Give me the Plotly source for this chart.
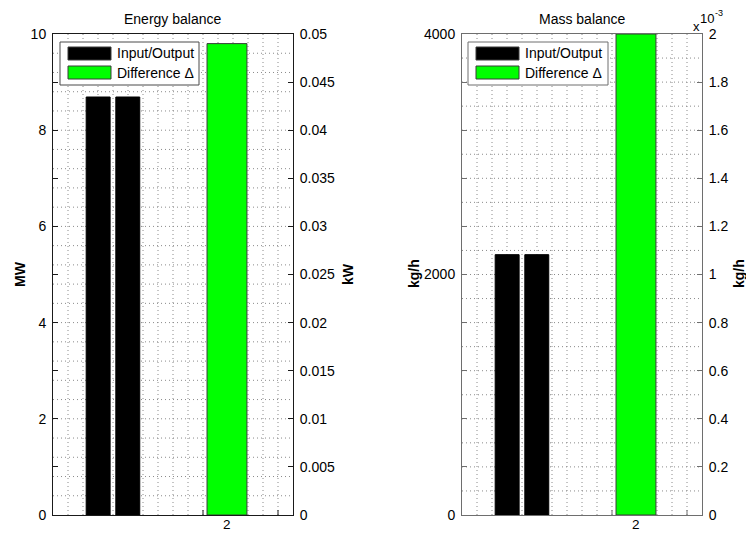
import plotly.graph_objects as go

# ---- data -------------------------------------------------------------
flow_names = ["Input", "Output"]
energy_io_mw = [8.69, 8.69]          # energy in / out (MW)
energy_diff_kw = [0.049]             # energy difference (kW)
mass_io_kgh = [2165, 2165]           # mass in / out (kg/h)
mass_diff_kgh = [0.002]              # mass difference (kg/h)

group_x = 1                          # position of the in/out pair
diff_x = 2                           # position of the difference bar
x_ticks = [2]
x_ticklabels = ["2"]

mw_ticks = [0, 1, 2, 3, 4, 5, 6, 7, 8, 9, 10]
mw_labels = ["0", "", "2", "", "4", "", "6", "", "8", "", "10"]
kw_ticks = [0, 0.005, 0.01, 0.015, 0.02, 0.025, 0.03, 0.035, 0.04, 0.045, 0.05]
kw_labels = ["0", "0.005", "0.01", "0.015", "0.02", "0.025", "0.03",
             "0.035", "0.04", "0.045", "0.05"]
kgh_ticks = [0, 400, 800, 1200, 1600, 2000, 2400, 2800, 3200, 3600, 4000]
kgh_labels = ["0", "", "", "", "", "2000", "", "", "", "", "4000"]
kgh_small_ticks = [0, 0.0002, 0.0004, 0.0006, 0.0008, 0.001,
                   0.0012, 0.0014, 0.0016, 0.0018, 0.002]
kgh_small_labels = ["0", "0.2", "0.4", "0.6", "0.8", "1",
                    "1.2", "1.4", "1.6", "1.8", "2"]

# ---- geometry / style ---------------------------------------------------
W, H = 746, 534
FONT = "Liberation Sans, Arial, Helvetica, sans-serif"
BLACK = "#000000"
GREEN = "#00ff00"
EDGE = "#3a3a3a"
GRID = "#8a8a8a"


def fx(x):
    return x / W


def fy(y):
    return 1 - y / H


X_RANGE = [0.474, 2.579]
Y_DOMAIN = [fy(515), fy(34)]
LEFT_DOMAIN = [fx(53), fx(293)]
RIGHT_DOMAIN = [fx(462), fx(702)]

pair_offsets = [-0.235, 0.025]
pair_width = 0.21
diff_offset = -0.175
diff_width = 0.35

fig = go.Figure()

# energy balance panel
for name, val, off in zip(flow_names, energy_io_mw, pair_offsets):
    fig.add_trace(go.Bar(x=[group_x], y=[val], name=name, xaxis="x", yaxis="y",
                         offset=off, width=pair_width,
                         marker=dict(color=BLACK, line=dict(color=BLACK, width=1))))
fig.add_trace(go.Bar(x=[diff_x], y=energy_diff_kw, name="Difference", xaxis="x", yaxis="y2",
                     offset=diff_offset, width=diff_width,
                     marker=dict(color=GREEN, line=dict(color=EDGE, width=1))))

# mass balance panel
for name, val, off in zip(flow_names, mass_io_kgh, pair_offsets):
    fig.add_trace(go.Bar(x=[group_x], y=[val], name=name, xaxis="x2", yaxis="y3",
                         offset=off, width=pair_width,
                         marker=dict(color=BLACK, line=dict(color=BLACK, width=1))))
fig.add_trace(go.Bar(x=[diff_x], y=mass_diff_kgh, name="Difference", xaxis="x2", yaxis="y4",
                     offset=diff_offset, width=diff_width, cliponaxis=True,
                     marker=dict(color=GREEN, line=dict(color=EDGE, width=1))))

tickfont = dict(family=FONT, size=14, color="#000000")


def xax(domain, anchor, linecolor):
    return dict(domain=domain, anchor=anchor, range=X_RANGE, showticklabels=False,
                ticks="", showgrid=False, zeroline=False,
                showline=True, mirror=True, linecolor=linecolor, linewidth=1,
                fixedrange=True, automargin=False)


def yax(rng, tv, tt, side, linecolor, anchor, overlaying=None, domain=None):
    d = dict(range=rng, tickvals=tv, ticktext=tt, ticks="inside", ticklen=5,
             tickcolor=linecolor, tickwidth=1, side=side, showgrid=False,
             zeroline=False, showline=True, linecolor=linecolor, linewidth=1,
             tickfont=tickfont, ticklabelstandoff=3, anchor=anchor, fixedrange=True,
             automargin=False)
    if overlaying:
        d["overlaying"] = overlaying
    if domain:
        d["domain"] = domain
    return d


LEFT_LINE = "#1a1a1a"
RIGHT_LINE = "#6e6e6e"

fig.update_layout(
    template="none",
    width=W, height=H,
    margin=dict(l=0, r=0, t=0, b=0, pad=0, autoexpand=False),
    paper_bgcolor="white", plot_bgcolor="white",
    showlegend=False,
    barmode="overlay",
    font=dict(family=FONT, size=14, color="#000000"),
    xaxis=xax(LEFT_DOMAIN, "y", LEFT_LINE),
    yaxis=yax([0, 10], mw_ticks, mw_labels, "left", LEFT_LINE, "x", domain=Y_DOMAIN),
    yaxis2=yax([0, 0.05], kw_ticks, kw_labels, "right", LEFT_LINE, "x", overlaying="y"),
    xaxis2=xax(RIGHT_DOMAIN, "y3", RIGHT_LINE),
    yaxis3=yax([0, 4000], kgh_ticks, kgh_labels, "left", RIGHT_LINE, "x2", domain=Y_DOMAIN),
    yaxis4=yax([0, 0.002], kgh_small_ticks, kgh_small_labels, "right", RIGHT_LINE, "x2",
               overlaying="y3"),
)

# dotted grid (drawn beneath the bars) and bottom tick marks
shapes = []
for xref, yref, nh, tickcol in [("x domain", "y domain", 25, LEFT_LINE),
                                ("x2 domain", "y3 domain", 20, RIGHT_LINE)]:
    for k in range(1, 16):
        shapes.append(dict(type="line", xref=xref, yref=yref, x0=k / 16, x1=k / 16,
                           y0=0, y1=1, layer="below",
                           line=dict(color=GRID, width=1, dash="1px,3px")))
    for j in range(1, nh):
        shapes.append(dict(type="line", xref=xref, yref=yref, x0=0, x1=1,
                           y0=j / nh, y1=j / nh, layer="below",
                           line=dict(color=GRID, width=1, dash="1px,3px")))
    for k in (5, 10, 15):
        shapes.append(dict(type="line", xref=xref, yref=yref, x0=k / 16, x1=k / 16,
                           y0=0, y1=5 / 481, layer="below",
                           line=dict(color=tickcol, width=1)))

annotations = []

# category labels under the difference bars
for xref in ("x", "x2"):
    for tv, tt in zip(x_ticks, x_ticklabels):
        annotations.append(dict(text=tt, xref=xref, yref="paper", x=tv, y=fy(533),
                                xanchor="center", yanchor="bottom", showarrow=False,
                                borderpad=0, font=dict(family=FONT, size=13.5,
                                                       color="#000000")))

# legends
for bx0, bx1, edge in [(60, 199, "#4a4a4a"), (468, 608, "#6e6e6e")]:
    shapes.append(dict(type="rect", xref="paper", yref="paper",
                       x0=fx(bx0), x1=fx(bx1), y0=fy(85), y1=fy(42),
                       fillcolor="white", line=dict(color=edge, width=1), layer="above"))
    sw0 = bx0 + 8
    sw1 = sw0 + 43
    for (ty0, ty1), col, label in [((47, 60), BLACK, "Input/Output"),
                                   ((66, 79), GREEN, "Difference \u0394")]:
        shapes.append(dict(type="rect", xref="paper", yref="paper",
                           x0=fx(sw0), x1=fx(sw1), y0=fy(ty1), y1=fy(ty0),
                           fillcolor=col, line=dict(color=EDGE, width=1), layer="above"))
        annotations.append(dict(text=label, xref="paper", yref="paper",
                                x=fx(sw1 + 4), y=fy((ty0 + ty1) / 2),
                                xanchor="left", yanchor="middle", showarrow=False,
                                font=dict(family=FONT, size=14, color="#000000")))

# titles
for text, cx in [("Energy balance", 173), ("Mass balance", 582)]:
    annotations.append(dict(text=text, xref="paper", yref="paper", x=fx(cx), y=fy(19),
                            xanchor="center", yanchor="middle", showarrow=False,
                            font=dict(family=FONT, size=14, color="#000000")))

# axis labels
for text, cx in [("MW", 20), ("kW", 348), ("kg/h", 414), ("kg/h", 739)]:
    annotations.append(dict(text="<b>%s</b>" % text, xref="paper", yref="paper",
                            x=fx(cx), y=fy(274), xanchor="center", yanchor="middle",
                            textangle=-90, showarrow=False,
                            font=dict(family=FONT, size=14, color="#000000")))

# exponent marker of the right-hand axis
annotations.append(dict(text="x", xref="paper", yref="paper", x=fx(691), y=fy(26),
                        xanchor="left", yanchor="middle", showarrow=False,
                        font=dict(family=FONT, size=13, color="#000000")))
annotations.append(dict(text="10", xref="paper", yref="paper", x=fx(698), y=fy(19),
                        xanchor="left", yanchor="middle", showarrow=False,
                        font=dict(family=FONT, size=13, color="#000000")))
annotations.append(dict(text="-3", xref="paper", yref="paper", x=fx(713), y=fy(13),
                        xanchor="left", yanchor="middle", showarrow=False,
                        font=dict(family=FONT, size=9, color="#000000")))

fig.update_layout(shapes=shapes, annotations=annotations)

fig.write_html("out.html", config={"displayModeBar": False})
